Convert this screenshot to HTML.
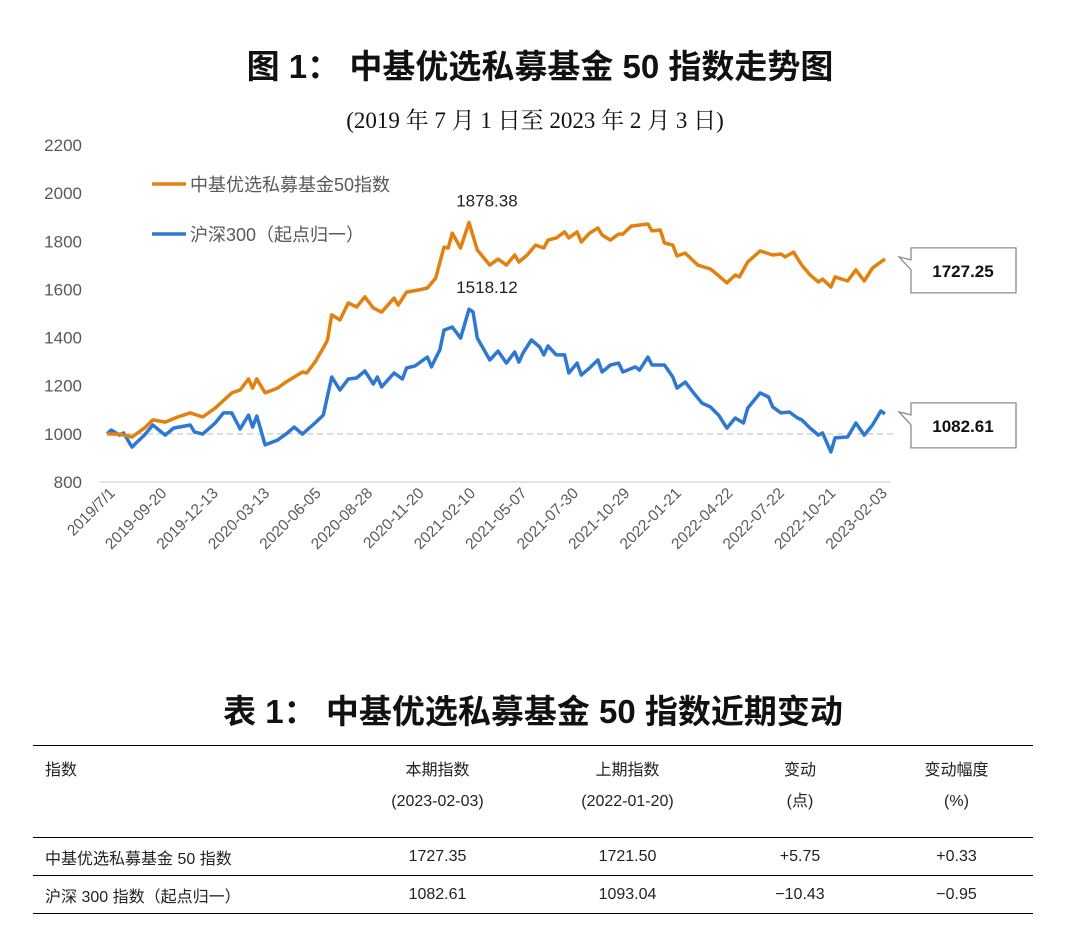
<!DOCTYPE html>
<html><head><meta charset="utf-8"><style>
body{margin:0;width:1080px;height:944px;background:#fff;font-family:"Liberation Sans","Noto Sans CJK SC",sans-serif;position:relative;overflow:hidden}
.abs{position:absolute}
.t{color:#111}
table{border-collapse:collapse;font-size:16px;color:#222;font-family:"Liberation Sans","Noto Sans CJK SC",sans-serif;table-layout:fixed}
</style></head><body>
<div class="abs t" style="left:0;width:1080px;top:40px;text-align:center;font-size:33px;font-weight:bold;font-family:'Liberation Sans','Noto Sans CJK SC',sans-serif">图 1： 中基优选私募基金 50 指数走势图</div>
<div class="abs t" style="left:0;width:1070px;top:102px;text-align:center;font-size:23px;font-family:'Liberation Serif','Noto Serif CJK SC',serif">(2019 年 7 月 1 日至 2023 年 2 月 3 日)</div>
<svg class="abs" style="left:0;top:0" width="1080" height="640" id="chart"></svg>
<div class="abs t" style="left:0;width:1066px;top:685px;text-align:center;font-size:33px;font-weight:bold">表 1： 中基优选私募基金 50 指数近期变动</div>
<table class="abs" style="left:33px;top:745px;width:1000px">
<colgroup><col style="width:307px"><col style="width:195px"><col style="width:185px"><col style="width:160px"><col style="width:153px"></colgroup>
<tr style="border-top:1.5px solid #000;height:92px;vertical-align:top">
<td style="padding:10px 12px">指数</td>
<td style="text-align:center;padding-top:10px">本期指数<br><span style="line-height:44px">(2023-02-03)</span></td>
<td style="text-align:center;padding-top:10px">上期指数<br><span style="line-height:44px">(2022-01-20)</span></td>
<td style="text-align:center;padding-top:10px">变动<br><span style="line-height:44px">(点)</span></td>
<td style="text-align:center;padding-top:10px">变动幅度<br><span style="line-height:44px">(%)</span></td></tr>
<tr style="border-top:1px solid #000;height:38px"><td style="padding-left:12px">中基优选私募基金 50 指数</td><td style="text-align:center">1727.35</td><td style="text-align:center">1721.50</td><td style="text-align:center">+5.75</td><td style="text-align:center">+0.33</td></tr>
<tr style="border-top:1px solid #000;border-bottom:1.5px solid #000;height:38px"><td style="padding-left:12px">沪深 300 指数（起点归一）</td><td style="text-align:center">1082.61</td><td style="text-align:center">1093.04</td><td style="text-align:center">−10.43</td><td style="text-align:center">−0.95</td></tr>
</table>
<script>
const yTicks=[800,1000,1200,1400,1600,1800,2000,2200];
const xLabels=["2019/7/1","2019-09-20","2019-12-13","2020-03-13","2020-06-05","2020-08-28","2020-11-20","2021-02-10","2021-05-07","2021-07-30","2021-10-29","2022-01-21","2022-04-22","2022-07-22","2022-10-21","2023-02-03"];
const fundWeeks=[0,3,6,9,11,14,17,20,23,26,30,32,34,35,36,38,41,43,47,48,50,52,53,54,56,58,60,62,64,66,69,70,72,75,77,79,81,82,83,85,87,89,92,94,96,98,99,101,103,105,106,108,110,111,113,114,116,118,119,121,123,124,126,130,131,133,134,136,137,139,142,145,146,149,151,152,154,157,160,162,163,165,167,169,171,172,174,175,178,180,182,184,187];
const fundValues=[1000,999,987,1024,1058,1049,1070,1087,1070,1107,1170,1182,1228,1190,1228,1170,1190,1215,1257,1253,1298,1357,1390,1494,1473,1544,1527,1569,1523,1506,1564,1535,1589,1598,1606,1647,1776,1772,1834,1772,1878,1764,1701,1726,1701,1743,1714,1743,1784,1772,1805,1814,1839,1814,1839,1797,1834,1855,1826,1805,1830,1830,1863,1872,1843,1847,1793,1784,1739,1751,1701,1685,1672,1627,1660,1652,1714,1760,1743,1747,1735,1755,1701,1660,1631,1643,1610,1652,1635,1681,1635,1689,1727];
const hsWeeks=[0,1,3,4,6,7,9,11,14,16,20,21,23,26,28,30,32,34,35,36,38,41,43,45,47,50,52,54,56,58,60,62,64,65,66,69,71,72,74,77,78,79,80,81,83,85,87,88,89,92,94,96,98,99,100,102,104,105,106,108,110,111,113,114,116,118,119,121,123,124,127,128,130,131,134,136,137,139,141,143,145,147,149,151,153,154,157,159,160,162,164,166,167,169,171,172,174,175,178,180,182,184,186,187];
const hsValues=[1000,1016,995,1004,945,962,995,1037,995,1024,1037,1008,999,1045,1087,1087,1020,1078,1028,1074,954,974,999,1028,999,1045,1078,1236,1182,1228,1232,1261,1207,1236,1195,1253,1228,1274,1282,1319,1278,1315,1348,1431,1444,1398,1518,1506,1398,1307,1344,1294,1340,1298,1336,1390,1361,1328,1365,1328,1328,1253,1294,1244,1274,1307,1257,1286,1294,1257,1278,1265,1319,1286,1286,1236,1190,1215,1170,1128,1112,1078,1024,1066,1045,1107,1170,1153,1112,1087,1091,1066,1058,1024,995,1004,925,983,987,1045,995,1037,1095,1083];
const annotations=[{label:"1878.38",week:87,value:1878},{label:"1518.12",week:87,value:1518}];
const endLabels=["1727.25","1082.61"];
const NS="http://www.w3.org/2000/svg";
const svg=document.getElementById('chart');
const X0=107,X1=885,WMAX=187,Y0=482,YTOP=145;
const xs=w=>X0+(X1-X0)*w/WMAX;
const ys=v=>Y0-(v-800)*(Y0-YTOP)/1400;
function mk(tag,attrs,parent){const e=document.createElementNS(NS,tag);for(const k in attrs)e.setAttribute(k,attrs[k]);(parent||svg).appendChild(e);return e;}
yTicks.forEach(v=>{const t=mk('text',{x:82,y:ys(v)+6,'text-anchor':'end','font-size':17,fill:'#595959','font-family':'Liberation Sans, sans-serif'});


t.textContent=v;});
const ax=mk('line',{x1:100,x2:890,y1:Y0,y2:Y0,stroke:'#d9d9d9','stroke-width':1.5});


const base=mk('line',{x1:107,x2:893,y1:ys(1000),y2:ys(1000),stroke:'#c8c8c8','stroke-width':1.3,'stroke-dasharray':'6,4'});


xLabels.forEach((s,i)=>{const x=116+i*(888-116)/(xLabels.length-1);const t=mk('text',{x:x,y:494,'text-anchor':'end','font-size':15.5,fill:'#595959','font-family':'Liberation Sans, sans-serif',transform:`rotate(-45 ${x} 494)`});


t.textContent=s;});
function line(ws,vs,color,name){const d=ws.map((w,i)=>(i?'L':'M')+xs(w).toFixed(1)+','+ys(vs[i]).toFixed(1)).join('');const p=mk('path',{d:d,fill:'none',stroke:color,'stroke-width':3.5,'stroke-linejoin':'round'});

}
line(hsWeeks,hsValues,'#2F78D2','hs300-line');
line(fundWeeks,fundValues,'#E2810F','fund-index-line');
annotations.forEach(a=>{const t=mk('text',{x:xs(a.week)+18,y:ys(a.value)-16,'text-anchor':'middle','font-size':17,fill:'#222','font-family':'Liberation Sans, sans-serif'});


t.textContent=a.label;});
[['#E2810F','中基优选私募基金50指数',184],['#2F78D2','沪深300（起点归一）',234]].forEach(l=>{const g=mk('g',{});


mk('line',{x1:152,x2:186,y1:l[2],y2:l[2],stroke:l[0],'stroke-width':3.5},g);
const t=mk('text',{x:190,y:l[2]+7,'font-size':18,fill:'#595959','font-family':'Liberation Sans, Noto Sans CJK SC, sans-serif'},g);t.textContent=l[1];});
[[fundValues[fundValues.length-1],endLabels[0]],[hsValues[hsValues.length-1],endLabels[1]]].forEach(c=>{const cy=ys(c[0]);const g=mk('g',{});


const top=cy-11,bot=cy+34;
mk('path',{d:`M911,${top}H1016V${bot}H911V${cy+11}L899,${cy-2}L911,${cy+1}Z`,fill:'#fff',stroke:'#8c8c8c','stroke-width':1.3},g);
const t=mk('text',{x:963,y:cy+18,'text-anchor':'middle','font-size':17,'font-weight':'bold',fill:'#111','font-family':'Liberation Sans, sans-serif'},g);t.textContent=c[1];});
</script>
</body></html>
